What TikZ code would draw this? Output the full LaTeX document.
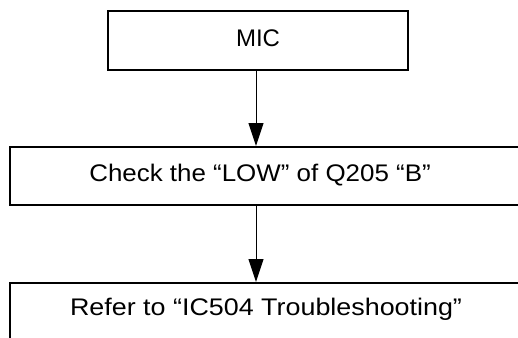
\documentclass[tikz,border=0pt]{standalone}
\usepackage{fontspec}
\setmainfont{Liberation Sans}
\usetikzlibrary{arrows.meta}
\begin{document}
\begin{tikzpicture}[x=1pt,y=-1pt,
  box/.style={draw, line width=1.8pt, rectangle, inner sep=0pt, anchor=north west},
  txt/.style={inner sep=0pt, font=\fontsize{24}{28}\selectfont},
  arr/.style={line width=1pt, -{Triangle[length=23pt, width=15pt]}}]
\useasboundingbox (0,0) rectangle (518,337);
\clip (0,0) rectangle (518,337);
\node[box, minimum width=300pt, minimum height=59pt] (b1) at (107,10) {};
\node[txt] (t1) at (258,38) {MIC};
\node[box, minimum width=530pt, minimum height=58pt] (b2) at (9,146) {};
\node[txt] (t2) at (260,175) {\scalebox{1.08}[1]{Check the “LOW” of Q205 “B”}};
\node[box, minimum width=530pt, minimum height=70pt] (b3) at (9,282) {};
\node[txt] (t3) at (266,309) {\scalebox{1.12}[1]{Refer to “IC504 Troubleshooting”}};
\draw[arr] (b1.south -| 256,0) -- (b2.north -| 256,0);
\draw[arr] (b2.south -| 256,0) -- (b3.north -| 256,0);
\end{tikzpicture}
\end{document}
